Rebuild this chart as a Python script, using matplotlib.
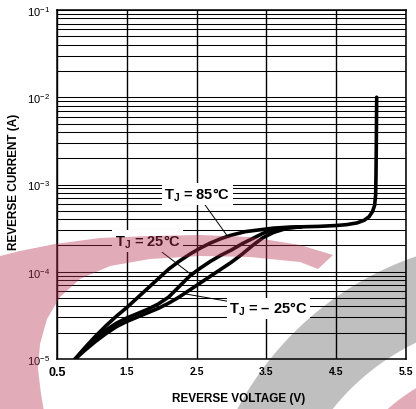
import numpy as np
import matplotlib
matplotlib.use("Agg")
import matplotlib.pyplot as plt
from matplotlib.ticker import LogLocator, NullFormatter
from matplotlib.path import Path
from matplotlib.patches import PathPatch, Polygon

plt.rcParams["font.family"] = ["Liberation Sans", "DejaVu Sans"]
plt.rcParams["mathtext.fontset"] = "custom"
plt.rcParams["mathtext.rm"] = "Liberation Sans"
plt.rcParams["mathtext.bf"] = "Liberation Sans:bold"
plt.rcParams["mathtext.it"] = "Liberation Sans:bold"

# ── Curve data (V, log10 of A) ──────────────────────────────────────────────
v_85 = [0.76, 0.90, 1.05, 1.20, 1.35, 1.50, 1.65, 1.80, 1.95, 2.10, 2.25, 2.40,
        2.55, 2.70, 2.85, 3.00, 3.20, 3.40, 3.60, 3.80, 4.00, 4.25, 4.50, 4.65,
        4.80, 4.90, 4.97, 5.02, 5.05, 5.065, 5.07, 5.075, 5.08]
log_i_85 = [-5.00, -4.87, -4.74, -4.62, -4.51, -4.41, -4.30, -4.19, -4.08, -3.97,
            -3.88, -3.80, -3.73, -3.67, -3.62, -3.58, -3.54, -3.52, -3.50, -3.49,
            -3.485, -3.48, -3.47, -3.46, -3.44, -3.41, -3.37, -3.31, -3.24, -3.12,
            -2.90, -2.50, -2.00]

v_25 = [0.76, 0.90, 1.05, 1.20, 1.35, 1.50, 1.65, 1.80, 1.95, 2.10, 2.25, 2.40,
        2.55, 2.70, 2.85, 3.00, 3.15, 3.30, 3.45, 3.60, 3.80, 4.00]
log_i_25 = [-5.00, -4.88, -4.77, -4.67, -4.59, -4.53, -4.48, -4.43, -4.37, -4.29,
            -4.17, -4.05, -3.96, -3.88, -3.81, -3.75, -3.68, -3.62, -3.56, -3.52,
            -3.495, -3.485]

v_m25 = [0.76, 0.90, 1.05, 1.20, 1.35, 1.50, 1.65, 1.80, 1.95, 2.10, 2.25, 2.40,
         2.55, 2.70, 2.85, 3.00, 3.15, 3.30, 3.45, 3.60, 3.80, 4.00]
log_i_m25 = [-5.00, -4.90, -4.80, -4.71, -4.63, -4.57, -4.52, -4.47, -4.42, -4.36,
             -4.29, -4.21, -4.13, -4.05, -3.97, -3.89, -3.80, -3.70, -3.61, -3.55,
             -3.50, -3.485]

x_ticks = [0.5, 1.5, 2.5, 3.5, 4.5, 5.5]
y_ticks = [1e-5, 1e-4, 1e-3, 1e-2, 1e-1]
y_tick_labels = [r"$10^{-5}$", r"$10^{-4}$", r"$10^{-3}$", r"$10^{-2}$", r"$10^{-1}$"]

W, H = 416, 410

fig = plt.figure(figsize=(W / 100, H / 100), dpi=100)
ax = fig.add_axes([57 / W, 1 - 360 / H, 349 / W, 349 / H])

ax.set_yscale("log")
ax.set_xlim(0.5, 5.5)
ax.set_ylim(1e-5, 1e-1)

# log grid: decades + 2..9 subdivisions, vertical lines at each volt
ax.yaxis.set_minor_locator(LogLocator(base=10, subs=np.arange(2, 10)))
ax.yaxis.set_minor_formatter(NullFormatter())
ax.set_yticks(y_ticks)
ax.set_yticklabels(y_tick_labels)
ax.set_xticks(x_ticks)
ax.set_xticklabels([f"{t:.1f}" for t in x_ticks])
ax.grid(True, which="both", axis="y", color="black", lw=0.75)
ax.grid(True, which="major", axis="x", color="black", lw=1.0)
ax.tick_params(which="both", length=0)
ax.tick_params(axis="x", pad=5, labelsize=7.5)
ax.tick_params(axis="y", pad=5, labelsize=8)
for lbl in ax.get_xticklabels():
    lbl.set_fontweight("bold")
ax.get_xticklabels()[0].set_fontsize(9)
for sp in ax.spines.values():
    sp.set_linewidth(1.1)

for v, li in [(v_m25, log_i_m25), (v_25, log_i_25), (v_85, log_i_85)]:
    ax.plot(v, 10 ** np.array(li), color="black", lw=2.6,
            solid_joinstyle="round", solid_capstyle="round", zorder=3)

box = dict(boxstyle="square,pad=0.15", fc="white", ec="none")
arrow = dict(arrowstyle="-", color="black", lw=0.7, shrinkA=0, shrinkB=0)
ax.annotate("T$_\\mathbf{J}$ = 85°C", xy=(2.94, 10 ** -3.59), xytext=(2.51, 10 ** -3.11),
            ha="center", va="center", fontsize=10.5, fontweight="bold",
            bbox=box, arrowprops=arrow, zorder=4)
ax.annotate("T$_\\mathbf{J}$ = 25°C", xy=(2.42, 10 ** -4.03), xytext=(1.80, 10 ** -3.65),
            ha="center", va="center", fontsize=10.5, fontweight="bold",
            bbox=box, arrowprops=arrow, zorder=4)
ax.annotate("T$_\\mathbf{J}$ = – 25°C", xy=(2.31, 10 ** -4.25), xytext=(3.53, 10 ** -4.42),
            ha="center", va="center", fontsize=10.5, fontweight="bold",
            bbox=box, arrowprops=arrow, zorder=4)

ax.set_xlabel("REVERSE VOLTAGE (V)", fontsize=8.5, fontweight="bold")
ax.xaxis.set_label_coords(0.52, -0.095)
ax.set_ylabel("REVERSE CURRENT (A)", fontsize=8.5, fontweight="bold")
ax.yaxis.set_label_coords(-0.105, 0.51)


# ── watermark of the scanned sheet (pixel coords, y from top) ────────────────
def to_fig(x, y):
    return np.column_stack([np.asarray(x) / W, 1 - np.asarray(y) / H])


def ring(cx, cy, r_out, r_in, n=240):
    t = np.linspace(0, 2 * np.pi, n)
    outer = to_fig(cx + r_out * np.cos(t), cy + r_out * np.sin(t))
    inner = to_fig(cx + r_in * np.cos(t[::-1]), cy + r_in * np.sin(t[::-1]))
    codes = ([Path.MOVETO] + [Path.LINETO] * (n - 1)) * 2
    return Path(np.vstack([outer, inner]), codes)


PINK = (0.71, 0.18, 0.30)

# pink "C" crescent: upper edge from the tip round to the left, inner edge back
pink_x = [333, 300, 250, 200, 150, 100, 55, 20, 0, -20, -20,
          47, 41, 38, 40, 47, 60, 80, 110, 150, 200, 250, 300, 318]
pink_y = [256, 246, 238, 236, 237, 239, 245, 252, 257, 262, 430,
          430, 395, 370, 345, 320, 298, 280, 267, 260, 257, 258, 263, 270]
fig.add_artist(Polygon(to_fig(pink_x, pink_y), closed=True,
                       transform=fig.transFigure, fc=PINK, ec="none",
                       alpha=0.4, zorder=20))

fig.add_artist(PathPatch(ring(520, 560, 320, 240), transform=fig.transFigure,
                         fc="black", ec="none", alpha=0.25, zorder=20))
fig.add_artist(PathPatch(ring(520, 560, 200, 140), transform=fig.transFigure,
                         fc=PINK, ec="none", alpha=0.4, zorder=20))

fig.savefig("out.png", dpi=100)
